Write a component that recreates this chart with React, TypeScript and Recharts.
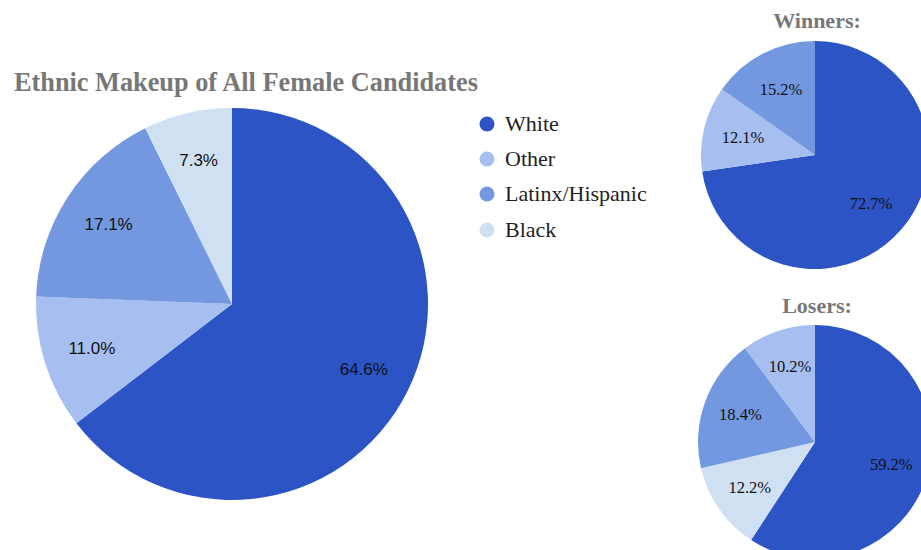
import React from "react";
import { PieChart, Pie, Cell } from "recharts";

const groups = ["White", "Other", "Latinx/Hispanic", "Black"];
const groupColors = ["#2c54c5", "#a6bef0", "#7398e0", "#d0e0f3"];

const allValues = [64.6, 11.0, 17.1, 7.3];
const allGroups = ["White", "Other", "Latinx/Hispanic", "Black"];

const winnerValues = [72.7, 12.1, 15.2];
const winnerGroups = ["White", "Other", "Latinx/Hispanic"];

const loserValues = [59.2, 12.2, 18.4, 10.2];
const loserGroups = ["White", "Black", "Latinx/Hispanic", "Other"];

const mainTitle = "Ethnic Makeup of All Female Candidates";
const winnersTitle = "Winners:";
const losersTitle = "Losers:";

const toRows = (names: string[], values: number[]) =>
  names.map((name, i) => ({ name, value: values[i] }));

const colorOf = (name: string) => groupColors[groups.indexOf(name)];

const RAD = Math.PI / 180;

const makeLabel =
  (factor: number, fontFamily: string, fontSize: number) => (props: any) => {
    const { cx, cy, midAngle, outerRadius, value } = props;
    const r = outerRadius * factor;
    const x = cx + r * Math.cos(-midAngle * RAD);
    const y = cy + r * Math.sin(-midAngle * RAD);
    return (
      <text
        x={x}
        y={y}
        textAnchor="middle"
        dominantBaseline="central"
        fill="#111"
        fontSize={fontSize}
        fontFamily={fontFamily}
      >
        {`${Number(value).toFixed(1)}%`}
      </text>
    );
  };

export default function App() {
  const allRows = toRows(allGroups, allValues);
  const winRows = toRows(winnerGroups, winnerValues);
  const loseRows = toRows(loserGroups, loserValues);
  const serif = "'Liberation Serif', 'Times New Roman', serif";
  const sans = "'Liberation Sans', Arial, sans-serif";

  return (
    <div
      style={{
        position: "absolute",
        left: 0,
        top: 0,
        width: 921,
        height: 550,
        background: "#fff",
        overflow: "hidden",
      }}
    >
      <PieChart
        width={921}
        height={550}
        margin={{ top: 0, right: 0, bottom: 0, left: 0 }}
      >
        <Pie
          data={allRows}
          dataKey="value"
          nameKey="name"
          cx={232}
          cy={304}
          outerRadius={196}
          startAngle={90}
          endAngle={-270}
          stroke="none"
          label={makeLabel(0.75, sans, 17)}
          labelLine={false}
          isAnimationActive={false}
        >
          {allRows.map((d) => (
            <Cell key={d.name} fill={colorOf(d.name)} />
          ))}
        </Pie>
        <Pie
          data={winRows}
          dataKey="value"
          nameKey="name"
          cx={815}
          cy={155}
          outerRadius={114}
          startAngle={90}
          endAngle={-270}
          stroke="none"
          label={makeLabel(0.65, serif, 16.5)}
          labelLine={false}
          isAnimationActive={false}
        >
          {winRows.map((d) => (
            <Cell key={d.name} fill={colorOf(d.name)} />
          ))}
        </Pie>
        <Pie
          data={loseRows}
          dataKey="value"
          nameKey="name"
          cx={815}
          cy={442}
          outerRadius={117}
          startAngle={90}
          endAngle={-270}
          stroke="none"
          label={makeLabel(0.68, serif, 16.5)}
          labelLine={false}
          isAnimationActive={false}
        >
          {loseRows.map((d) => (
            <Cell key={d.name} fill={colorOf(d.name)} />
          ))}
        </Pie>
      </PieChart>

      <div
        style={{
          position: "absolute",
          left: 14,
          top: 68,
          fontFamily: serif,
          fontWeight: "bold",
          fontSize: 26.3,
          color: "#777",
          whiteSpace: "nowrap",
          lineHeight: "30px",
        }}
      >
        {mainTitle}
      </div>
      <div
        style={{
          position: "absolute",
          left: 717,
          width: 200,
          top: 8,
          textAlign: "center",
          fontFamily: serif,
          fontWeight: "bold",
          fontSize: 22,
          color: "#777",
          lineHeight: "26px",
        }}
      >
        {winnersTitle}
      </div>
      <div
        style={{
          position: "absolute",
          left: 717,
          width: 200,
          top: 293,
          textAlign: "center",
          fontFamily: serif,
          fontWeight: "bold",
          fontSize: 22,
          color: "#777",
          lineHeight: "26px",
        }}
      >
        {losersTitle}
      </div>
      <div style={{ position: "absolute", left: 479, top: 106 }}>
        {groups.map((g, i) => (
          <div
            key={g}
            style={{
              display: "flex",
              alignItems: "center",
              height: 35.3,
              fontFamily: serif,
              fontSize: 22,
              color: "#222",
            }}
          >
            <svg width={16} height={16} style={{ marginRight: 10 }}>
              <circle cx={8} cy={8} r={7.5} fill={groupColors[i]} />
            </svg>
            <span>{g}</span>
          </div>
        ))}
      </div>
    </div>
  );
}
